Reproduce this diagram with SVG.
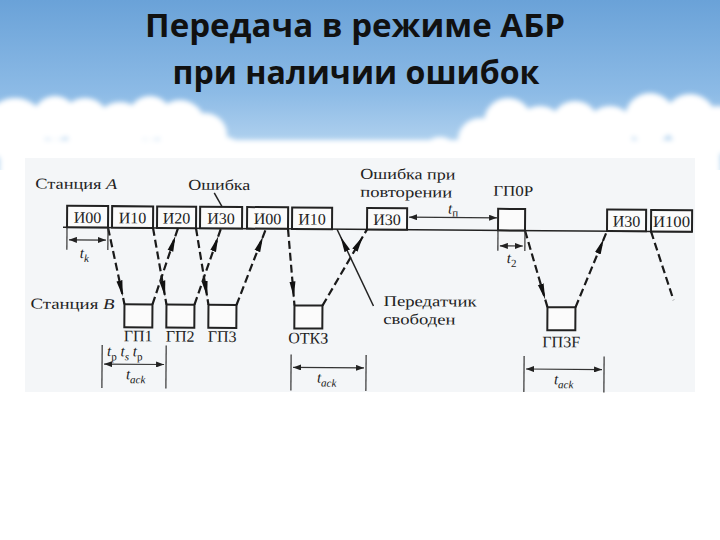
<svg xmlns="http://www.w3.org/2000/svg" width="720" height="540" viewBox="0 0 720 540">
<defs>
<linearGradient id="sky" x1="0" y1="0" x2="0" y2="1">
<stop offset="0" stop-color="#6aa2d8"/>
<stop offset="0.55" stop-color="#8dbbe6"/>
<stop offset="1" stop-color="#c3ddf3"/>
</linearGradient>
<filter id="soft" x="-10%" y="-10%" width="120%" height="120%"><feGaussianBlur stdDeviation="2.5"/></filter>
<marker id="ah" viewBox="0 0 26 8" refX="24" refY="4" markerWidth="26" markerHeight="8" markerUnits="userSpaceOnUse" orient="auto"><path d="M0,1 L16,4 L0,7 z" fill="#111"/></marker>
<marker id="sa" viewBox="0 0 8 6" refX="8" refY="3" markerWidth="8" markerHeight="6" markerUnits="userSpaceOnUse" orient="auto-start-reverse"><path d="M0,0 L8,3 L0,6 z" fill="#222"/></marker>
</defs>
<style>
.title{font-family:"Open Sans","Noto Sans",sans-serif;font-weight:700;font-size:32px;fill:#111;text-anchor:middle}
.lbl{font-family:"Liberation Serif","DejaVu Serif",serif;font-size:15px;fill:#222}
.box{fill:#fbfbfb;stroke:#222;stroke-width:2}
.bt{font-family:"Liberation Serif","DejaVu Serif",serif;font-size:16px;fill:#222;text-anchor:middle}
.dash{fill:none;stroke:#1a1a1a;stroke-width:2.2;stroke-dasharray:8 4}
.solid{fill:none;stroke:#222;stroke-width:1.5}
.thin{fill:none;stroke:#333;stroke-width:1.2}
.it{font-family:"Liberation Serif","DejaVu Serif",serif;font-style:italic;font-size:15px;fill:#222}
.sub{font-size:11px}
</style>
<!-- background -->
<rect x="0" y="0" width="720" height="540" fill="#ffffff"/>
<rect x="0" y="0" width="720" height="170" fill="url(#sky)"/>
<g id="clouds" fill="#ffffff" filter="url(#soft)">
<circle cx="15" cy="130" r="32"/><circle cx="55" cy="118" r="22"/><circle cx="85" cy="122" r="24"/><circle cx="120" cy="128" r="26"/><circle cx="150" cy="118" r="22"/><circle cx="180" cy="125" r="25"/><circle cx="205" cy="135" r="22"/><circle cx="225" cy="155" r="18"/>
<circle cx="260" cy="165" r="18"/><circle cx="300" cy="162" r="16"/><circle cx="345" cy="160" r="18"/><circle cx="395" cy="160" r="18"/><circle cx="440" cy="155" r="18"/>
<circle cx="480" cy="140" r="22"/><circle cx="508" cy="122" r="24"/><circle cx="540" cy="130" r="24"/><circle cx="575" cy="125" r="24"/><circle cx="610" cy="130" r="24"/><circle cx="650" cy="118" r="25"/><circle cx="690" cy="120" r="26"/><circle cx="718" cy="130" r="24"/>
<rect x="0" y="140" width="720" height="60"/>
</g>
<rect x="0" y="170" width="720" height="370" fill="#ffffff"/>
<rect x="25" y="158" width="670" height="234" fill="#f4f6f8"/>
<g id="title">
<text class="title" x="355" y="37" textLength="420" lengthAdjust="spacingAndGlyphs">Передача в режиме АБР</text>
<text class="title" x="356" y="84" textLength="367" lengthAdjust="spacingAndGlyphs">при наличии ошибок</text>
</g>
<g id="diagram" transform="rotate(0.4 380 230)">
<g id="labels">
<text class="lbl" x="35" y="191" textLength="82" lengthAdjust="spacingAndGlyphs">Станция <tspan font-style="italic">A</tspan></text>
<text class="lbl" x="188" y="191" textLength="62" lengthAdjust="spacingAndGlyphs">Ошибка</text>
<text class="lbl" x="360" y="179" textLength="95" lengthAdjust="spacingAndGlyphs">Ошибка при</text>
<text class="lbl" x="360" y="197" textLength="92" lengthAdjust="spacingAndGlyphs">повторении</text>
<text class="lbl" x="493" y="195" textLength="40" lengthAdjust="spacingAndGlyphs">ГП0Р</text>
<text class="lbl" x="31" y="311" textLength="84" lengthAdjust="spacingAndGlyphs">Станция <tspan font-style="italic">B</tspan></text>
<text class="lbl" x="384" y="306" textLength="93" lengthAdjust="spacingAndGlyphs">Передатчик</text>
<text class="lbl" x="384" y="324" textLength="72" lengthAdjust="spacingAndGlyphs">свободен</text>
</g>
<line class="solid" x1="63" y1="229.5" x2="692" y2="229.5" stroke-width="2"/>
<g id="nA1"><rect class="box" x="67" y="208" width="41" height="21.5"/><text class="bt" x="87.5" y="225">И00</text></g>
<g id="nA2"><rect class="box" x="112" y="208" width="41" height="21.5"/><text class="bt" x="132.5" y="225">И10</text></g>
<g id="nA3"><rect class="box" x="157" y="208" width="39" height="21.5"/><text class="bt" x="176.5" y="225">И20</text></g>
<g id="nA4"><rect class="box" x="200" y="208" width="42" height="21.5"/><text class="bt" x="221" y="225">И30</text></g>
<g id="nA5"><rect class="box" x="247" y="208" width="41" height="21.5"/><text class="bt" x="267.5" y="225">И00</text></g>
<g id="nA6"><rect class="box" x="292" y="208" width="40" height="21.5"/><text class="bt" x="312" y="225">И10</text></g>
<g id="nA7"><rect class="box" x="367" y="208" width="40" height="21.5"/><text class="bt" x="387" y="225">И30</text></g>
<g id="nA8"><rect class="box" x="498" y="208" width="27" height="21.5"/></g>
<g id="nA9"><rect class="box" x="607" y="208" width="39" height="21.5"/><text class="bt" x="626.5" y="225">И30</text></g>
<g id="nA10"><rect class="box" x="651" y="208" width="41" height="21.5"/><text class="bt" x="671.5" y="225" textLength="37" lengthAdjust="spacingAndGlyphs">И100</text></g>
<g id="nB1"><rect class="box" x="125" y="306" width="28" height="23"/><text class="bt" x="139" y="343">ГП1</text></g>
<g id="nB2"><rect class="box" x="167" y="306" width="28" height="23"/><text class="bt" x="181" y="343">ГП2</text></g>
<g id="nB3"><rect class="box" x="209" y="306" width="28" height="23"/><text class="bt" x="223" y="343">ГП3</text></g>
<g id="nB4"><rect class="box" x="295" y="306" width="28" height="23"/><text class="bt" x="309" y="344">ОТКЗ</text></g>
<g id="nB5"><rect class="box" x="548" y="306" width="28" height="23"/><text class="bt" x="562" y="346">ГП3F</text></g>
<g id="connectors">
<line class="dash" x1="108" y1="229.5" x2="125" y2="306" marker-end="url(#ah)"/>
<line class="dash" x1="153" y1="229.5" x2="167" y2="306" marker-end="url(#ah)"/>
<line class="dash" x1="196" y1="229.5" x2="209" y2="306" marker-end="url(#ah)"/>
<line class="dash" x1="288" y1="229.5" x2="295" y2="306" marker-end="url(#ah)"/>
<line class="dash" x1="525" y1="229.5" x2="548" y2="306" marker-end="url(#ah)"/>
<line class="dash" x1="651" y1="229.5" x2="674" y2="298"/>
<line class="dash" x1="153" y1="306" x2="178" y2="229.5" marker-end="url(#ah)"/>
<line class="dash" x1="195" y1="306" x2="221" y2="229.5" marker-end="url(#ah)"/>
<line class="dash" x1="237" y1="306" x2="266" y2="229.5" marker-end="url(#ah)"/>
<line class="dash" x1="323" y1="306" x2="367" y2="229.5" marker-end="url(#ah)"/>
<line class="dash" x1="576" y1="306" x2="607" y2="229.5" marker-end="url(#ah)"/>
<line class="solid" x1="374" y1="306" x2="337" y2="229.5" marker-end="url(#ah)"/>
<line class="solid" x1="214" y1="194" x2="222" y2="208"/>
</g>
<g id="timings">
<line class="thin" x1="67" y1="229.5" x2="67" y2="252"/>
<line class="thin" x1="108" y1="229.5" x2="108" y2="252"/>
<line class="thin" x1="69" y1="242" x2="106" y2="242" marker-start="url(#sa)" marker-end="url(#sa)"/>
<text class="it" x="80" y="260">t<tspan class="sub" dy="4">k</tspan></text>
<line class="thin" x1="409" y1="217" x2="497" y2="217" marker-start="url(#sa)" marker-end="url(#sa)"/>
<text class="it" x="448" y="213">t<tspan class="sub" dy="3" font-style="normal">п</tspan></text>
<line class="thin" x1="498" y1="229.5" x2="498" y2="250"/>
<line class="thin" x1="525" y1="229.5" x2="525" y2="250"/>
<line class="thin" x1="500" y1="245" x2="523" y2="245" marker-start="url(#sa)" marker-end="url(#sa)"/>
<text class="it" x="507" y="262">t<tspan class="sub" dy="4" font-style="normal">2</tspan></text>
<line class="thin" x1="103" y1="347" x2="103" y2="390"/>
<line class="thin" x1="167" y1="347" x2="167" y2="390"/>
<line class="thin" x1="105" y1="366" x2="165" y2="366" marker-start="url(#sa)" marker-end="url(#sa)"/>
<text class="it" x="108" y="358">t<tspan class="sub" dy="4" font-style="normal">p</tspan><tspan dy="-4"> t</tspan><tspan class="sub" dy="4">s</tspan><tspan dy="-4"> t</tspan><tspan class="sub" dy="4" font-style="normal">p</tspan></text>
<text class="it" x="127" y="381">t<tspan class="sub" dy="4">ack</tspan></text>
<line class="thin" x1="292" y1="355" x2="292" y2="391"/>
<line class="thin" x1="367" y1="355" x2="367" y2="391"/>
<line class="thin" x1="294" y1="368" x2="365" y2="368" marker-start="url(#sa)" marker-end="url(#sa)"/>
<text class="it" x="318" y="383">t<tspan class="sub" dy="4">ack</tspan></text>
<line class="thin" x1="525" y1="355" x2="525" y2="391"/>
<line class="thin" x1="605" y1="355" x2="605" y2="391"/>
<line class="thin" x1="527" y1="368" x2="603" y2="368" marker-start="url(#sa)" marker-end="url(#sa)"/>
<text class="it" x="555" y="383">t<tspan class="sub" dy="4">ack</tspan></text>
</g>
</g>
</svg>
